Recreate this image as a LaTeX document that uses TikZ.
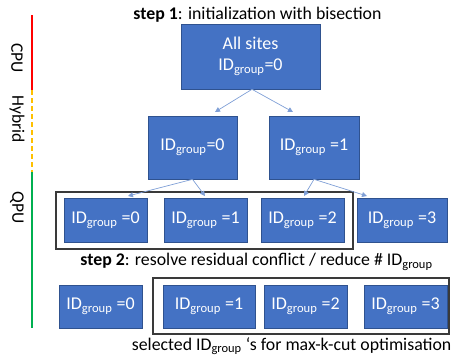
\documentclass[tikz,border=0pt]{standalone}
\usepackage{fontspec}
\setmainfont{Carlito}
\usetikzlibrary{arrows.meta}
\definecolor{boxfill}{HTML}{4472C4}
\definecolor{boxline}{HTML}{2F528F}
\definecolor{arrowc}{HTML}{7F9FD6}
\definecolor{cpured}{HTML}{FF0000}
\definecolor{hybyellow}{HTML}{FFC000}
\definecolor{qpugreen}{HTML}{00B050}
\definecolor{framec}{HTML}{3A3A3A}
\newcommand{\grp}{\textsubscript{group}}
\begin{document}
\begin{tikzpicture}[x=1pt,y=-1pt,
  idbox/.style={draw=boxline,line width=0.6pt,fill=boxfill,text=white,inner sep=0pt,
    font=\fontsize{18}{21}\selectfont,align=center},
  conn/.style={draw=arrowc,line width=0.7pt,-{Triangle[length=5pt,width=5pt]}},
  frame/.style={draw=framec,line width=1.1pt},
  caption/.style={font=\fontsize{17.8}{21}\selectfont,inner sep=0pt},
  vlabel/.style={font=\fontsize{17.5}{21}\selectfont,rotate=-90,inner sep=0pt}]
\useasboundingbox (0,0) rectangle (453,360);
% left bar
\coordinate (r0) at (32,15);
\coordinate (r1) at (32,90);
\coordinate (y1) at (32,172);
\coordinate (g1) at (32,328);
\draw[cpured,line width=1.2pt] (r0) -- (r1);
\draw[hybyellow,line width=1.2pt,dash pattern=on 5pt off 3pt] (r1) -- (y1);
\draw[qpugreen,line width=1.2pt] (y1) -- (g1);
\node[vlabel] (lcpu) at (17,58) {CPU};
\node[vlabel] (lhyb) at (17,119) {Hybrid};
\node[vlabel] (lqpu) at (17,208) {QPU};
% titles
\node[caption] (t1) at (257.5,15) {\textbf{step 1}: initialization with bisection};
\node[caption] (t2) at (256.5,262) {\textbf{step 2}: resolve residual conflict / reduce \# ID\grp};
\node[caption,anchor=east] (t3) at (451.5,346) {selected ID\grp\ ‘s for max-k-cut optimisation};
% frames
\node[frame,minimum width=297pt,minimum height=57pt,inner sep=0pt] (f1) at (204.5,220.5) {};
\node[frame,minimum width=296pt,minimum height=56pt,inner sep=0pt] (f2) at (301,306) {};
% boxes
\node[idbox,minimum width=139pt,minimum height=65pt] (top) at (250.5,56.5) {All sites\\ID\grp=0};
\node[idbox,minimum width=89pt,minimum height=63pt] (a) at (192.5,147.5) {ID\grp=0};
\node[idbox,minimum width=90pt,minimum height=63pt] (b) at (314,147.5) {ID\grp\ =1};
\node[idbox,minimum width=83pt,minimum height=44pt] (c0) at (105.5,220) {ID\grp\ =0};
\node[idbox,minimum width=83pt,minimum height=44pt] (c1) at (205.5,220) {ID\grp\ =1};
\node[idbox,minimum width=83pt,minimum height=44pt] (c2) at (302.5,220) {ID\grp\ =2};
\node[idbox,minimum width=90pt,minimum height=44pt] (c3) at (402,220) {ID\grp\ =3};
\node[idbox,minimum width=83pt,minimum height=43pt] (d0) at (100.5,306.5) {ID\grp\ =0};
\node[idbox,minimum width=92pt,minimum height=43pt] (d1) at (209,306.5) {ID\grp\ =1};
\node[idbox,minimum width=83pt,minimum height=43pt] (d2) at (305.5,306.5) {ID\grp\ =2};
\node[idbox,minimum width=83pt,minimum height=43pt] (d3) at (405.5,306.5) {ID\grp\ =3};
% arrow ends
\coordinate (ta) at (215,112);
\coordinate (tb) at (293,112);
\coordinate (tc0) at (128,196);
\coordinate (tc1) at (205,196);
\coordinate (tc2) at (304,196);
\coordinate (tc3) at (367,196);
\draw[conn] ([xshift=1.5pt]top.south) -- (ta);
\draw[conn] ([xshift=1.5pt]top.south) -- (tb);
\draw[conn] (a.south) -- (tc0);
\draw[conn] (a.south) -- (tc1);
\draw[conn] (b.south) -- (tc2);
\draw[conn] (b.south) -- (tc3);
\end{tikzpicture}
\end{document}
